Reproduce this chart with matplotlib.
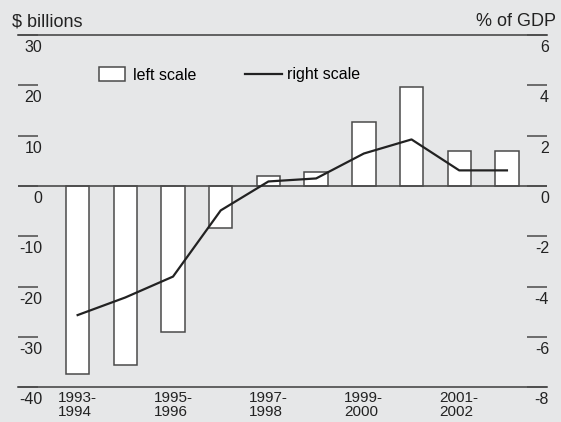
import numpy as np
import matplotlib
matplotlib.use("Agg")
import matplotlib.pyplot as plt
import matplotlib.transforms as mtransforms
from matplotlib.patches import Rectangle
from matplotlib.lines import Line2D

# -----------------------------
# data
# -----------------------------
years = ["1993", "1994", "1995", "1996", "1997", "1998", "1999", "2000", "2001", "2002"]
balance_bn = [-37.3, -35.5, -29.0, -8.4, 2.0, 2.7, 12.7, 19.7, 6.9, 6.9]      # left scale
balance_gdp = [-5.13, -4.43, -3.6, -0.97, 0.18, 0.3, 1.29, 1.85, 0.62, 0.62]  # right scale

xtick_pos = [0, 2, 4, 6, 8]
xtick_labels = ["1993-\n1994", "1995-\n1996", "1997-\n1998", "1999-\n2000", "2001-\n2002"]
left_ticks = [-40, -30, -20, -10, 0, 10, 20, 30]
right_ticks = [-8, -6, -4, -2, 0, 2, 4, 6]

bg = "#e6e7e8"
edge = "#4a4a4a"
plt.rcParams["font.family"] = ["Liberation Sans", "DejaVu Sans"]
plt.rcParams["axes.unicode_minus"] = False

fig = plt.figure(figsize=(5.61, 4.22), dpi=100, facecolor=bg)
ax = fig.add_axes([18/561, 1-387.3/422, (547-18)/561, (387.3-35)/422])
ax.set_facecolor(bg)

x = np.arange(len(years))
ax.bar(x, balance_bn, width=0.49, color="white", edgecolor=edge, linewidth=1.1, zorder=2)
ax.axhline(0, color=edge, linewidth=1.2, zorder=3)

ax.set_xlim(-1.25, 9.84)
ax.set_ylim(-40, 30)
ax.set_yticks(left_ticks)
ax.set_xticks(xtick_pos)
ax.set_xticklabels(xtick_labels, fontsize=11, linespacing=0.95, multialignment="left")
ax.tick_params(axis="x", length=0, pad=3, colors="#222")
ax.tick_params(axis="y", direction="in", length=14.4, width=1.1, color=edge,
               pad=-17.3, labelsize=11.5, labelcolor="#222")

for s in ["left", "right"]:
    ax.spines[s].set_visible(False)
for s in ["top", "bottom"]:
    ax.spines[s].set_color(edge)
    ax.spines[s].set_linewidth(1.2)

# right scale
ax2 = ax.twinx()
ax2.plot(x, balance_gdp, color="#222", linewidth=1.6, zorder=4)
ax2.set_ylim(-8, 6)
ax2.set_yticks(right_ticks)
ax2.tick_params(axis="y", direction="in", length=14.4, width=1.1, color=edge,
                pad=1.5, labelsize=11.5, labelcolor="#222")
for s in ax2.spines.values():
    s.set_visible(False)

# labels sit below their tick lines
down = mtransforms.ScaledTranslation(0, -0.11, fig.dpi_scale_trans)
for lab in ax.get_yticklabels():
    lab.set_transform(lab.get_transform() + down)
for lab in ax2.get_yticklabels():
    lab.set_transform(lab.get_transform() + down)
    lab.set_horizontalalignment("right")

fig.text(12/561, 1-22/422, "$ billions", fontsize=13, va="center", ha="left", color="#222")
fig.text(556/561, 1-22/422, "% of GDP", fontsize=13, va="center", ha="right", color="#222")

# legend
h1 = Rectangle((0, 0), 1, 1, facecolor="white", edgecolor=edge, linewidth=1.1)
fig.legend([h1], ["left scale"], loc="center left", bbox_to_anchor=(99/561, 1-75/422),
           frameon=False, fontsize=11.5, borderpad=0, borderaxespad=0,
           handlelength=1.65, handleheight=0.9, handletextpad=0.45)
h2 = Line2D([0], [0], color="#222", linewidth=1.6)
fig.legend([h2], ["right scale"], loc="center left", bbox_to_anchor=(245/561, 1-75/422),
           frameon=False, fontsize=11.5, borderpad=0, borderaxespad=0,
           handlelength=2.3, handletextpad=0.3)

fig.savefig("out.png", dpi=100, facecolor=bg)
